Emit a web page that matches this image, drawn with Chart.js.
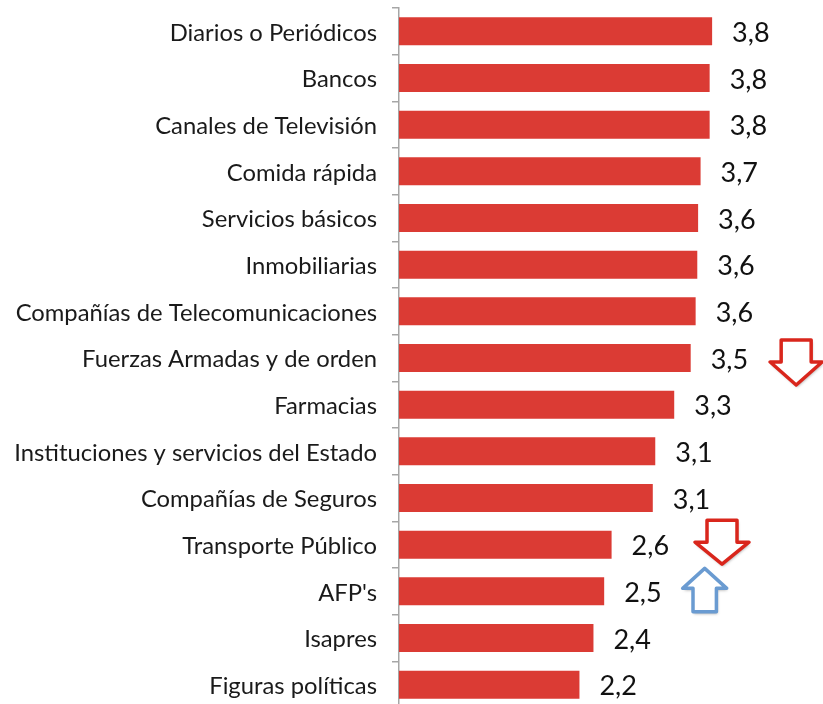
<!DOCTYPE html>
<html>
<head>
<meta charset="utf-8">
<script src="https://cdn.jsdelivr.net/npm/chart.js@4/dist/chart.umd.min.js"></script>
<style>
  html, body { margin: 0; padding: 0; background: #fff; overflow: hidden; }
  #contenedor { position: relative; width: 823px; height: 708px; }
</style>
</head>
<body>
<div id="contenedor"><canvas id="graficaConfianza"></canvas></div>
<script>
const categorias = [
  'Diarios o Periódicos',
  'Bancos',
  'Canales de Televisión',
  'Comida rápida',
  'Servicios básicos',
  'Inmobiliarias',
  'Compañías de Telecomunicaciones',
  'Fuerzas Armadas y de orden',
  'Farmacias',
  'Instituciones y servicios del Estado',
  'Compañías de Seguros',
  'Transporte Público',
  "AFP's",
  'Isapres',
  'Figuras políticas'
];
const valores = [3.80, 3.77, 3.77, 3.66, 3.63, 3.62, 3.60, 3.54, 3.34, 3.11, 3.08, 2.58, 2.49, 2.36, 2.19];

// flechas de tendencia (categoria, posicion en el eje x)
const flechas = [
  { cat: 7,  x: 4.82, color: '#d9261c', top: -18,   head: 4,    tip: 27,   sw: 15,   hw: 26 },
  { cat: 11, x: 3.92, color: '#d9261c', top: -24.5, head: -2.5, tip: 19.5, sw: 15,   hw: 27 },
  { cat: 12, x: 3.71, color: '#6a9bd1', top: 20.5,  head: -3,   tip: -23,  sw: 11.7, hw: 22 }
];

const etiquetasValor = {
  id: 'etiquetasValor',
  afterDatasetsDraw(chart) {
    const ctx = chart.ctx;
    const meta = chart.getDatasetMeta(0);
    ctx.save();
    ctx.font = '27px Lato';
    ctx.fillStyle = '#111';
    ctx.textAlign = 'left';
    ctx.textBaseline = 'middle';
    meta.data.forEach((bar, i) => {
      ctx.fillText(valores[i].toFixed(1).replace('.', ','), bar.x + 20, bar.y + 2);
    });
    ctx.restore();
  }
};

const dibujarFlechas = {
  id: 'dibujarFlechas',
  afterDraw(chart) {
    const ctx = chart.ctx;
    const xs = chart.scales.x;
    const ys = chart.scales.y;
    flechas.forEach((f) => {
      const cx = xs.getPixelForValue(f.x);
      const cy = ys.getPixelForValue(f.cat);
      const top = cy + f.top, head = cy + f.head, tip = cy + f.tip;
      ctx.save();
      ctx.beginPath();
      ctx.moveTo(cx - f.sw, top);
      ctx.lineTo(cx + f.sw, top);
      ctx.lineTo(cx + f.sw, head);
      ctx.lineTo(cx + f.hw, head);
      ctx.lineTo(cx, tip);
      ctx.lineTo(cx - f.hw, head);
      ctx.lineTo(cx - f.sw, head);
      ctx.closePath();
      ctx.shadowColor = 'rgba(0,0,0,0.35)';
      ctx.shadowBlur = 3;
      ctx.shadowOffsetX = 1;
      ctx.shadowOffsetY = 2;
      ctx.fillStyle = '#fff';
      ctx.fill();
      ctx.shadowColor = 'transparent';
      ctx.lineJoin = 'round';
      ctx.lineWidth = 3.5;
      ctx.strokeStyle = f.color;
      ctx.stroke();
      ctx.restore();
    });
  }
};

let graficaConfianza = new Chart(document.getElementById('graficaConfianza'), {
  type: 'bar',
  data: {
    labels: categorias,
    datasets: [{
      data: valores,
      backgroundColor: '#db3b34',
      barPercentage: 0.6,
      categoryPercentage: 1
    }]
  },
  options: {
    indexAxis: 'y',
    animation: false,
    responsive: true,
    maintainAspectRatio: false,
    layout: { padding: { top: 8, right: 12, left: 0, bottom: 0 } },
    plugins: {
      legend: { display: false },
      tooltip: { enabled: false }
    },
    scales: {
      x: { min: 0, max: 5, display: false },
      y: {
        afterFit(scale) {
          scale.width = 399;
          scale.paddingTop = 0;
          scale.paddingBottom = 0;
        },
        grid: { drawOnChartArea: false, tickLength: 7, color: '#a6a6a6', lineWidth: 1.5 },
        border: { color: '#a6a6a6', width: 1.5 },
        ticks: { font: { family: 'Lato', size: 23.8 }, color: '#1a1a1a', padding: 15, autoSkip: false, labelOffset: 1.5 }
      }
    }
  },
  plugins: [etiquetasValor, dibujarFlechas]
});
</script>
</body>
</html>
